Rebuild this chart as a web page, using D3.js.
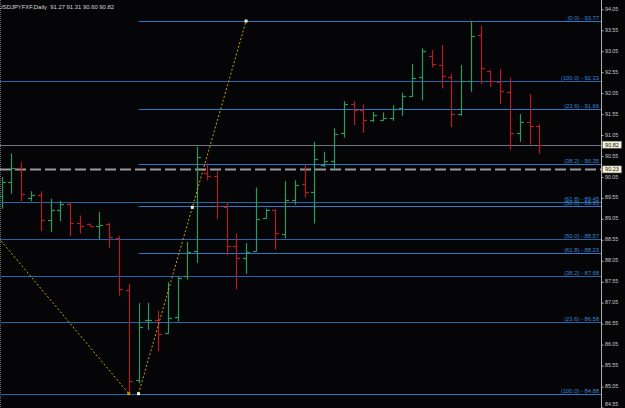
<!DOCTYPE html>
<html>
<head>
<meta charset="utf-8">
<title>USDJPYFXF daily</title>
<script src="https://cdn.jsdelivr.net/npm/d3@7"></script>
<style>
  body { margin: 0; background: #050508; }
  svg { display: block; }
  .axis text { fill: #c8c8c8; font-family: "Liberation Sans", Arial, sans-serif; font-size: 5.3px; }
  .axis path, .axis line { stroke: #b0b0b0; }
</style>
</head>
<body>
<script>
// daily OHLC, oldest first
var openVals  = [89.60, 89.93, 90.26, 89.56, 89.63, 89.03, 89.25, 89.40, 88.95, 88.92, 88.88, 88.92, 88.60, 87.36, 85.21, 86.63, 86.64, 86.32, 86.70, 87.68, 88.28, 90.15, 90.07, 89.33, 88.40, 88.11, 88.28, 89.07, 89.27, 88.69, 89.51, 89.89, 89.69, 90.33, 90.43, 91.09, 91.79, 91.64, 91.42, 91.40, 91.46, 91.70, 91.98, 92.44, 92.93, 92.72, 92.44, 91.56, 92.34, 93.44, 92.58, 92.32, 92.08, 91.10, 91.36, 91.27]
var highVals  = [90.05, 90.61, 90.40, 89.71, 89.71, 89.53, 89.48, 89.45, 89.13, 88.94, 89.21, 88.95, 88.64, 87.50, 87.04, 87.05, 86.86, 87.54, 87.68, 88.50, 90.77, 90.37, 90.19, 89.45, 88.70, 88.47, 89.80, 89.29, 89.28, 89.95, 89.97, 90.35, 90.89, 90.65, 91.21, 91.86, 91.86, 91.78, 91.60, 91.59, 91.76, 92.06, 92.74, 93.12, 93.08, 93.20, 92.50, 92.72, 93.77, 93.65, 92.60, 92.62, 92.42, 91.55, 92.03, 91.31]
var lowVals   = [89.29, 89.65, 89.47, 89.47, 88.76, 88.74, 89.00, 88.64, 88.70, 88.87, 88.56, 88.36, 87.22, 84.88, 85.13, 86.40, 85.89, 86.31, 86.60, 87.60, 88.00, 89.97, 89.04, 88.18, 87.37, 87.74, 88.27, 89.06, 88.32, 88.59, 89.39, 89.56, 88.94, 90.29, 90.23, 90.99, 91.29, 91.10, 91.36, 91.39, 91.39, 91.51, 91.96, 91.88, 92.66, 92.16, 91.24, 91.51, 92.08, 92.26, 92.20, 91.79, 90.70, 90.89, 90.82, 90.60]
var closeVals = [89.93, 90.27, 89.65, 89.63, 89.03, 89.25, 89.40, 88.95, 88.89, 88.87, 88.91, 88.62, 87.38, 85.19, 86.48, 86.64, 86.31, 86.68, 87.65, 88.27, 90.53, 90.07, 89.36, 88.40, 88.11, 88.27, 89.04, 89.25, 88.71, 89.49, 89.85, 89.68, 90.47, 90.42, 91.07, 91.79, 91.64, 91.42, 91.52, 91.46, 91.68, 91.97, 92.42, 93.05, 92.74, 92.46, 91.56, 92.34, 93.42, 92.64, 92.34, 92.10, 91.09, 91.36, 91.26, 90.82]

var tickVals = [94.05, 93.55, 93.05, 92.55, 92.05, 91.55, 91.05, 90.55, 90.05, 89.55, 89.05, 88.55, 88.05, 87.55, 87.05, 86.55, 86.05, 85.55, 85.05, 84.55]

// fib retracement drawn from the 84.88 low up to 93.77
var fib1Names  = ["0.0", "23.6", "38.2", "50.0", "61.8", "100.0"]
var fib1Prices = [93.77, 91.66, 90.35, 89.35, 88.23, 84.88]
// older fib from 92.33 down to the 84.88 low
var fib2Names  = ["100.0", "61.8", "50.0", "38.2", "23.6", "0.0"]
var fib2Prices = [92.33, 89.45, 88.57, 87.68, 86.58, 84.88]

// trend line anchors (bar index, price)
var trend1 = [[-13.7, 92.33], [13, 84.88]]
var trend2 = [[14, 84.88], [25, 93.77]]

var lastPrice = 90.82
var markPrice = 90.23
var title = "USDJPYFXF,Daily  91.27 91.31 90.60 90.82"

var w = 625, h = 408
var plotRight = 601

var svg = d3.select("body").append("svg").attr("width", w).attr("height", h)
svg.append("rect").attr("width", w).attr("height", h).attr("fill", "#050508")

var xScale = d3.scaleLinear().domain([0, 55]).range([1.7, 539.3])
var yScale = d3.scaleLinear().domain([84.55, 94.05]).range([407.5, 9.3])

svg.append("clipPath").attr("id", "plot")
  .append("rect").attr("x", 0).attr("y", 0).attr("width", plotRight).attr("height", h)

var g = svg.append("g").attr("clip-path", "url(#plot)")

// left border
g.append("line").attr("x1", 0.5).attr("x2", 0.5).attr("y1", 0).attr("y2", h)
  .attr("stroke", "#6a6a5a").attr("stroke-dasharray", "1,1")

// last price line + dashed marker
g.append("line").attr("x1", 0).attr("x2", plotRight)
  .attr("y1", Math.round(yScale(lastPrice)) + 0.5).attr("y2", Math.round(yScale(lastPrice)) + 0.5)
  .attr("stroke", "#6c7480")
g.append("line").attr("x1", 0).attr("x2", plotRight)
  .attr("y1", yScale(markPrice)).attr("y2", yScale(markPrice))
  .attr("stroke", "#9a9a9a").attr("stroke-width", 2).attr("stroke-dasharray", "11,4")

// fib lines
function fibLines(prices, startX, color) {
  g.selectAll(null).data(prices).enter().append("line")
    .attr("x1", startX).attr("x2", plotRight)
    .attr("y1", function(d){ return Math.round(yScale(d)) + 0.5 })
    .attr("y2", function(d){ return Math.round(yScale(d)) + 0.5 })
    .attr("stroke", color).attr("stroke-width", 1.2)
}
fibLines(fib2Prices, 0, "#1f67aa")
fibLines(fib1Prices, xScale(trend2[0][0]), "#2a78c4")

function fibLabels(names, prices, skipLast) {
  var rows = names.map(function(n, i){ return {name: n, price: prices[i]} })
  if (skipLast) rows = rows.slice(0, -1)
  g.selectAll(null).data(rows).enter().append("text")
    .attr("x", plotRight - 2)
    .attr("y", function(d){ return Math.round(yScale(d.price)) - 1 })
    .attr("text-anchor", "end")
    .attr("fill", "#3a86d6")
    .attr("font-family", "Liberation Sans, Arial, sans-serif")
    .attr("font-size", 5.8)
    .text(function(d){ return "(" + d.name + ") - " + d.price.toFixed(2) })
}
fibLabels(fib2Names, fib2Prices, true)
fibLabels(fib1Names, fib1Prices, false)

// OHLC bars
var bars = openVals.map(function(o, i){
  return {i: i, o: o, h: highVals[i], l: lowVals[i], c: closeVals[i]}
})
var barG = g.selectAll(".bar").data(bars).enter().append("g")
  .attr("stroke", function(d){ return d.c >= d.o ? "#2b9a5a" : "#b51d25" })
  .attr("stroke-width", 1.2)
barG.append("line")
  .attr("x1", function(d){ return Math.round(xScale(d.i)) + 0.5 })
  .attr("x2", function(d){ return Math.round(xScale(d.i)) + 0.5 })
  .attr("y1", function(d){ return yScale(d.h) })
  .attr("y2", function(d){ return yScale(d.l) })
barG.append("line")
  .attr("x1", function(d){ return Math.round(xScale(d.i)) - 3 })
  .attr("x2", function(d){ return Math.round(xScale(d.i)) + 0.5 })
  .attr("y1", function(d){ return Math.round(yScale(d.o)) + 0.5 })
  .attr("y2", function(d){ return Math.round(yScale(d.o)) + 0.5 })
barG.append("line")
  .attr("x1", function(d){ return Math.round(xScale(d.i)) + 0.5 })
  .attr("x2", function(d){ return Math.round(xScale(d.i)) + 4 })
  .attr("y1", function(d){ return Math.round(yScale(d.c)) + 0.5 })
  .attr("y2", function(d){ return Math.round(yScale(d.c)) + 0.5 })

// dotted trend lines
var trendLine = d3.line()
  .x(function(d){ return xScale(d[0]) })
  .y(function(d){ return yScale(d[1]) })
;[trend1, trend2].forEach(function(t){
  g.append("path").datum(t).attr("d", trendLine)
    .attr("fill", "none").attr("stroke", "#c9a400").attr("stroke-width", 1)
    .attr("stroke-dasharray", "2,2")
})
var handles = [trend1[1], trend2[0], [(trend2[0][0] + trend2[1][0]) / 2, (trend2[0][1] + trend2[1][1]) / 2], trend2[1]]
g.selectAll(".handle").data(handles).enter().append("rect")
  .attr("x", function(d){ return xScale(d[0]) - 1.5 })
  .attr("y", function(d){ return yScale(d[1]) - 1.5 })
  .attr("width", 3).attr("height", 3)
  .attr("fill", function(d, i){ return i == 0 ? "#d08a00" : "#f0f0d0" })

// price axis
var axis = d3.axisRight(yScale).tickValues(tickVals).tickFormat(d3.format(".2f")).tickSize(2).tickPadding(1.5)
svg.append("g").attr("class", "axis")
  .attr("transform", "translate(" + (plotRight + 0.5) + ",0)")
  .call(axis)
  .call(function(a){
    a.select(".domain").attr("d", "M0,0V" + h)
    a.selectAll(".tick text").attr("dy", function(d){ return d < 84.6 ? "-0.4em" : "0.2em" })
  })

// value boxes on the axis
;[lastPrice, markPrice].forEach(function(p){
  var y = yScale(p)
  svg.append("rect").attr("x", 602.5).attr("y", y - 3.5).attr("width", 19).attr("height", 7)
    .attr("fill", "#f4f2dc").attr("stroke", "#808070").attr("stroke-width", 0.5)
  svg.append("text").attr("x", 612).attr("y", y + 2)
    .attr("text-anchor", "middle").attr("fill", "#111")
    .attr("font-family", "Liberation Sans, Arial, sans-serif").attr("font-size", 5.5)
    .text(p.toFixed(2))
})

// title
svg.append("text").attr("x", -1.5).attr("y", 8.5)
  .attr("fill", "#d8d8d8")
  .attr("font-family", "Liberation Sans, Arial, sans-serif")
  .attr("font-size", 5.9)
  .attr("xml:space", "preserve")
  .text(title)
</script>
</body>
</html>
